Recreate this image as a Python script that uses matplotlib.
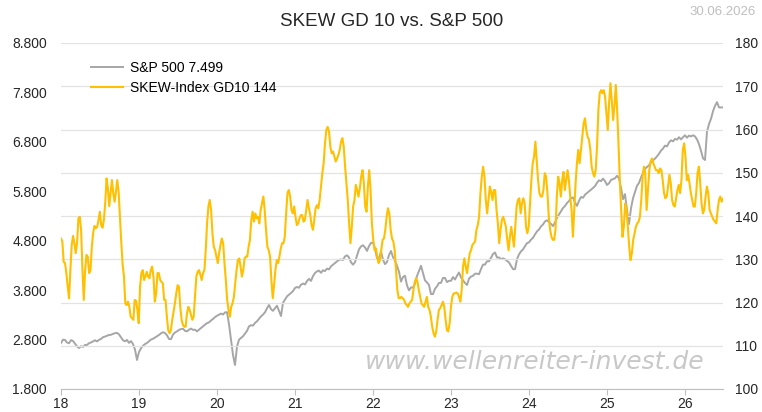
import numpy as np
import pandas as pd
import matplotlib
matplotlib.use("Agg")
import matplotlib.pyplot as plt
import matplotlib.dates as mdates
from matplotlib.ticker import FuncFormatter, MultipleLocator

plt.rcParams['font.family'] = ['Liberation Sans', 'DejaVu Sans']

# S&P 500 (roughly every 9 days, 2018-01 .. 2026-06)
spx = [
    2731, 2798, 2792, 2741, 2725, 2788, 2772, 2717, 2662, 2630,
    2666, 2650, 2691, 2691, 2727, 2741, 2763, 2786, 2763, 2794,
    2812, 2848, 2861, 2877, 2893, 2897, 2915, 2929, 2935, 2905,
    2846, 2786, 2765, 2792, 2733, 2769, 2709, 2598, 2387, 2549,
    2624, 2674, 2709, 2731, 2765, 2800, 2816, 2842, 2867, 2893,
    2927, 2948, 2933, 2885,
    2812, 2808, 2901, 2943, 2966, 2996, 3012, 3020, 2976, 2966,
    3000, 3022, 2996, 3000, 2966, 3000, 3034, 3067, 3101, 3132,
    3148, 3186, 3217, 3255, 3281, 3303, 3326, 3306, 3350, 3354,
    3111, 2792, 2488, 2286, 2656, 2798, 2832, 2867, 2921, 2976,
    3067, 3091, 3083, 3136, 3170, 3219, 3269, 3306, 3352, 3433,
    3500, 3415, 3382, 3433, 3484,
    3382, 3277, 3544, 3611, 3674, 3708, 3743, 3781, 3844, 3864,
    3848, 3910, 3933, 3915, 3983, 4028, 3987, 4084, 4147, 4180,
    4196, 4151, 4202, 4186, 4236, 4220, 4281, 4315, 4349, 4382,
    4412, 4420, 4410, 4483, 4505, 4461, 4364, 4315, 4366, 4499,
    4623, 4685, 4708, 4663, 4594, 4691, 4754, 4764, 4645, 4443,
    4445, 4584, 4416, 4326, 4370,
    4511, 4592, 4467, 4394, 4289, 4173, 3973, 4066, 4091, 3896,
    3795, 3854, 3854, 3931, 4086, 4190, 4293, 4147, 3997, 3955,
    3904, 3720, 3720, 3828, 3878, 3947, 3947, 4048, 4048, 3963,
    3989, 3989, 4064, 4014, 4091, 4157, 4056, 3997, 3947, 3904,
    4032, 4074, 4091, 4133, 4133, 4123, 4226, 4317, 4317, 4384,
    4384, 4453, 4530, 4562, 4461,
    4461, 4426, 4443, 4426, 4392, 4360, 4291, 4224, 4224, 4426,
    4523, 4584, 4623, 4691, 4750, 4768, 4821, 4859, 4928, 4989,
    5027, 5090, 5128, 5191, 5213, 5179, 5140, 5096, 5169, 5264,
    5331, 5399, 5462, 5501, 5563, 5602, 5664, 5675, 5573, 5505,
    5606, 5685, 5668, 5731, 5766, 5798, 5832, 5867, 5905, 5972,
    6022, 6006, 6057, 6006, 5927,
    5962, 6028, 6047, 6063, 6113, 6063, 5869, 5640, 5743, 5422,
    5138, 5456, 5658, 5784, 5911, 5970, 6079, 6180, 6257, 6291,
    6326, 6389, 6427, 6461, 6506, 6560, 6623, 6664, 6724, 6708,
    6787, 6832, 6809, 6860, 6844, 6894, 6850, 6894, 6933, 6884,
    6927, 6911, 6933, 6911, 6850, 6753, 6619, 6468, 6433, 7008,
    7159, 7267, 7418, 7528, 7604, 7497, 7495, 7499,
]

# SKEW index, 10-day average (GD10)
skew = [
    134.8, 134.1, 129.4, 129.1, 126.8, 123.7, 121.0, 127.5, 133.3, 135.4,
    133.8, 131.4, 133.8, 139.5, 139.8, 136.8, 127.5, 120.6, 127.5, 131.0,
    130.6, 126.8, 127.5, 132.9, 136.1, 137.7, 137.2, 137.5, 139.1, 141.0,
    137.9, 137.3, 139.1, 143.0, 148.7, 146.4, 142.3, 145.3, 148.3, 145.3,
    143.3, 145.6, 148.3, 145.6, 139.8, 133.8, 128.7, 126.0, 119.8, 119.4,
    120.2, 119.0, 116.7, 116.4, 116.0, 120.6, 120.4, 118.3, 115.2, 123.7,
    126.8, 127.5, 125.2, 126.0, 127.1, 126.0, 125.6, 127.5, 128.3, 126.0,
    120.2, 122.1, 126.8, 126.8, 125.2, 124.8, 124.4, 120.6,
    120.6, 116.7, 113.6, 112.9, 113.6, 116.0, 117.9, 119.8, 122.1, 124.0,
    123.7, 119.0, 116.0, 114.8, 114.4, 114.4, 117.5, 119.0, 118.3, 117.1,
    116.0, 116.7, 121.3, 126.0, 127.1, 127.5, 126.4, 125.2, 126.8, 127.5,
    132.1, 138.3, 142.2, 143.7, 141.4, 136.0, 132.9, 132.1, 130.6, 129.1,
    131.4, 133.3, 134.8, 133.7, 129.1, 125.2, 120.6, 118.3, 116.7, 119.0,
    119.8, 121.3, 124.4, 127.5, 129.8, 130.2, 128.3, 126.0, 127.5, 130.2,
    130.6, 130.6, 132.9, 134.5, 139.1, 141.0, 138.7, 140.6, 139.5, 139.8,
    138.3, 141.4, 142.9, 144.5, 141.4, 136.8, 132.9, 132.1, 130.6, 125.2,
    121.0, 124.0, 127.5, 129.8, 129.1, 130.6, 132.5, 133.7, 133.7, 135.2,
    140.6, 145.3, 146.0, 144.5, 141.4, 140.6, 142.2, 139.8, 137.9, 138.3,
    139.5, 140.2, 140.2, 138.7, 139.1, 141.4, 143.7, 141.8, 140.2, 137.9,
    136.8, 139.1, 141.8, 142.5, 141.8, 143.7, 146.8, 149.9, 152.2, 156.8,
    159.9, 160.6, 159.5, 156.0, 154.5, 154.9, 153.7, 152.6, 153.3, 154.1,
    155.3, 157.2, 158.0, 156.0, 151.4, 147.6, 143.7, 138.3, 133.7, 137.5,
    142.2, 143.7, 147.2, 146.0, 144.5, 146.4, 149.1, 150.6, 147.6, 142.2,
    141.0, 146.8, 150.6, 146.0, 138.3, 134.5, 132.1, 132.5, 130.6, 129.1,
    129.8, 132.1,
    134.5, 134.8, 136.8, 139.8, 141.8, 140.6, 136.8, 134.8, 134.1, 132.1,
    127.5, 122.9, 121.0, 121.0, 121.3, 121.0, 120.6, 119.8, 119.4, 119.0,
    119.8, 120.2, 120.6, 122.9, 124.8, 125.6, 124.8, 122.9, 121.3, 119.8,
    119.4, 119.0, 120.2, 121.3, 119.0, 118.3, 116.7, 114.4, 112.9, 112.1,
    113.3, 116.0, 118.3, 118.7, 119.4, 120.2, 119.0, 116.0, 113.6, 113.3,
    115.2, 119.0, 121.3, 122.1, 122.1, 122.3, 122.1, 121.3, 120.2, 122.9,
    128.3, 130.2, 128.3, 126.8, 129.1, 131.4, 132.1, 133.3, 133.7, 134.1,
    136.8, 137.9, 139.8, 145.3, 149.1, 151.4, 149.1, 143.7, 140.6, 143.7,
    146.8, 145.6, 143.7, 146.0,
    146.0, 141.4, 138.3, 133.7, 136.8, 139.1, 139.8, 138.7, 137.5, 134.5,
    132.1, 135.2, 137.5, 135.2, 132.9, 137.5, 142.2, 143.7, 144.1, 140.6,
    142.9, 144.1, 142.9, 137.5, 136.0, 137.5, 142.9, 148.3, 152.2, 153.7,
    157.2, 152.9, 148.3, 145.3, 144.5, 144.5, 146.0, 149.9, 149.1, 145.3,
    139.8, 136.8, 135.2, 134.5, 134.5, 136.8, 144.5, 149.1, 147.6, 144.5,
    148.3, 150.2, 146.0, 148.3, 150.6, 148.3, 144.5, 141.4, 135.2, 141.4,
    147.6, 152.2, 155.3, 152.2, 155.3, 158.3, 161.4, 162.6, 159.9, 158.3,
    157.6, 155.3, 151.4, 149.9, 149.1, 150.6, 156.0, 164.5, 168.4, 169.1,
    168.4, 169.1, 167.6,
    163.7, 159.9, 166.1, 170.7, 166.8, 162.2, 165.3, 170.3, 164.5, 156.8,
    148.3, 141.4, 135.2, 137.5, 142.9, 141.4, 137.5, 132.9, 129.8, 131.4,
    134.5, 136.0, 137.5, 138.3, 138.7, 139.8, 143.7, 149.1, 151.4, 149.9,
    141.4, 146.0, 150.6, 152.6, 153.3, 152.2, 151.4, 150.6, 150.6, 149.9,
    151.0, 150.6, 148.3, 145.3, 144.1, 144.5, 146.8, 149.5, 147.6, 143.7,
    142.5, 142.2, 144.1, 146.0, 147.2, 145.3, 148.3, 155.3, 156.8, 153.7,
    148.3, 149.5, 147.6, 145.3, 143.7, 142.2, 142.2, 145.3, 149.9, 151.4,
    147.6, 142.9, 140.6, 141.4, 144.5, 146.8, 145.3, 141.4, 140.6, 139.8,
    139.1, 138.7, 138.3, 141.4, 143.7, 144.5, 143.3, 144.0,
]

spx_ticks = np.arange(1800, 8801, 1000)

start, end = "2018-01-01", "2026-06-30"
spx_dates = pd.date_range(start, end, periods=len(spx))
skew_dates = pd.date_range(start, end, periods=len(skew))

title = "SKEW GD 10 vs. S&P 500"
stamp = "30.06.2026"
spx_label = "S&P 500 7.499"
skew_label = "SKEW-Index GD10 144"
watermark = "www.wellenreiter-invest.de"

GOLD = "#FFC000"
GREY = "#A6A6A6"
GRID = "#E3E3E3"
TXT = "#262626"

fig = plt.figure(figsize=(7.62, 4.12), dpi=100)
ax1 = fig.add_axes([61/762, 1 - 389/412, 662/762, 346/412])
ax2 = ax1.twinx()

l1, = ax1.plot(spx_dates, spx, color=GREY, lw=1.4, label=spx_label)
l2, = ax2.plot(skew_dates, skew, color=GOLD, lw=1.5, label=skew_label)

# left axis: S&P
ax1.set_ylim(1800, 8800)
ax1.set_yticks(spx_ticks)
ax1.yaxis.set_major_formatter(FuncFormatter(lambda v, p: f"{v:,.0f}".replace(",", ".")))
ax1.tick_params(axis='y', length=0, pad=10, labelsize=10, labelcolor=TXT)

# right axis: SKEW (grid follows this one)
ax2.set_ylim(100, 180)
ax2.yaxis.set_major_locator(MultipleLocator(10))
ax2.tick_params(axis='y', length=0, pad=9, labelsize=10, labelcolor=TXT)
ax2.grid(axis='y', color=GRID, lw=0.9)
ax2.set_axisbelow(True)

ax1.set_xlim(pd.Timestamp(start), pd.Timestamp(end))
ax1.xaxis.set_major_locator(mdates.YearLocator())
ax1.xaxis.set_major_formatter(mdates.DateFormatter("%y"))
ax1.tick_params(axis='x', direction='out', length=4, color='#BFBFBF',
                labelsize=10, labelcolor=TXT, pad=1.5)

for side in ('top', 'left', 'right'):
    ax1.spines[side].set_visible(False)
ax1.spines['bottom'].set_color('#BFBFBF')
for sp in ax2.spines.values():
    sp.set_visible(False)

ax2.legend(handles=[l1, l2], loc='upper left', bbox_to_anchor=(0.027, 0.985),
           frameon=False, fontsize=10, handlelength=2.3, handletextpad=0.45,
           labelspacing=0.45)

fig.text(392/762, 1 - 21/412, title, ha='center', va='center',
         fontsize=13.5, color=TXT)
fig.text(756/762, 1 - 12/412, stamp, ha='right', va='center',
         fontsize=9.5, color='#BFBFBF')
fig.text(535/762, 1 - 362/412, watermark, ha='center', va='center',
         fontsize=18, style='italic', color='#C8C8C8',
         family='DejaVu Sans', zorder=0)

fig.savefig("out.png", dpi=100)
